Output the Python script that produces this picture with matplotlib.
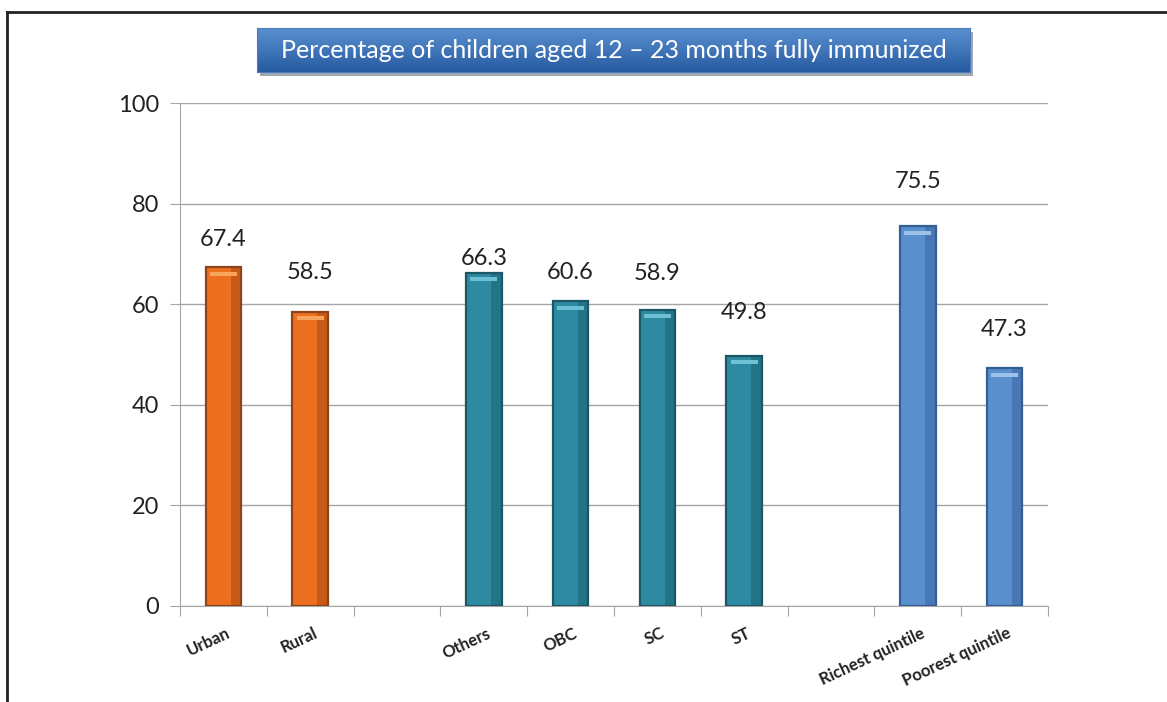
import matplotlib.pyplot as plt
import matplotlib.patches as patches
import numpy as np

# === Data ===
categories = ["Urban", "Rural", "", "Others", "OBC", "SC", "ST", "",
              "Richest quintile", "Poorest quintile"]
values = [67.4, 58.5, np.nan, 66.3, 60.6, 58.9, 49.8, np.nan, 75.5, 47.3]
# where each value label sits (data units, placed by hand like in the original)
label_y = [72.8, 66.4, np.nan, 69.0, 66.4, 66.2, 58.3, np.nan, 84.3, 54.9]
groups = ["res", "res", None, "caste", "caste", "caste", "caste", None, "wealth", "wealth"]

title = "Percentage of children aged 12 \u2013 23 months fully immunized"

face = {"res": "#EC7020", "caste": "#2D8AA0", "wealth": "#5A8FCD"}
edge = {"res": "#8E4418", "caste": "#1B5766", "wealth": "#345E96"}
shade = {"res": "#C85A18", "caste": "#237486", "wealth": "#4877B4"}
light = {"res": "#F8A45A", "caste": "#6FC0D4", "wealth": "#9CC2EC"}

plt.rcParams['font.family'] = ['Lato', 'DejaVu Sans']

# === Plotting ===
fig = plt.figure(figsize=(11.67, 7.02), dpi=100)
ax = fig.add_axes([180 / 1167, 1 - 606 / 702, 868 / 1167, 503 / 702])

x = np.arange(len(categories))
w = 0.41
for i, (v, g) in enumerate(zip(values, groups)):
    if g is None:
        continue
    ax.bar(x[i], v, width=w, color=face[g], linewidth=0, zorder=3)
    # darker right side and light strip on top for the bevel look
    ax.bar(x[i] + w * 0.35, v, width=w * 0.3, color=shade[g], linewidth=0, zorder=3)
    ax.bar(x[i], 0.8, bottom=v - 1.7, width=w * 0.75, color=light[g], linewidth=0, zorder=4)
    ax.bar(x[i], v, width=w, fill=False, edgecolor=edge[g], linewidth=1.6, zorder=5)
    ax.text(x[i], label_y[i], f"{v:.1f}", ha="center", va="center",
            fontsize=17, color="#222222", zorder=5)

ax.set_xlim(-0.5, len(categories) - 0.5)
ax.set_ylim(0, 100)
ax.set_yticks([0, 20, 40, 60, 80, 100])
ax.tick_params(axis="y", labelsize=17, colors="#222222", length=7, color="#A6A6A6", pad=8)
ax.yaxis.grid(True, color="#A6A6A6", linewidth=1.0, zorder=0)
ax.set_axisbelow(True)

# x ticks at category boundaries, labels under the bars
ax.set_xticks(np.arange(-0.5, len(categories)))
ax.set_xticklabels([])
ax.tick_params(axis="x", length=7, color="#A6A6A6", direction="out")
for i, c in enumerate(categories):
    if c:
        ax.text(x[i] + 0.03, -3.8, c, rotation=25, ha="right", va="top",
                rotation_mode="anchor", fontsize=12, fontweight="bold", color="#222222")

for s in ["top", "right"]:
    ax.spines[s].set_visible(False)
ax.spines["left"].set_color("#A6A6A6")
ax.spines["bottom"].set_color("#A6A6A6")

# title box with shadow and vertical gradient
shax = fig.add_axes([260 / 1167, 1 - 76 / 702, 713 / 1167, 44 / 702])
shax.set_facecolor("#A0A8B2")
shax.set_xticks([])
shax.set_yticks([])
for s in shax.spines.values():
    s.set_visible(False)
shax.set_zorder(1)

tax = fig.add_axes([257 / 1167, 1 - 72 / 702, 713 / 1167, 44 / 702])
grad = np.linspace(0, 1, 64).reshape(-1, 1)
top_c = np.array([0x5A, 0x90, 0xD0]) / 255
bot_c = np.array([0x27, 0x5B, 0xA2]) / 255
img = top_c[None, None, :] * (1 - grad[:, :, None]) + bot_c[None, None, :] * grad[:, :, None]
tax.imshow(img, aspect="auto", extent=[0, 1, 0, 1])
tax.set_xticks([])
tax.set_yticks([])
for s in tax.spines.values():
    s.set_color("#4A7CBC")
tax.set_zorder(2)
tax.text(0.5, 0.5, title, ha="center", va="center", fontsize=18, color="white",
         transform=tax.transAxes)

# outer frame (left and top edges visible)
fig.add_artist(plt.Line2D([7 / 1167, 7 / 1167], [0, 1 - 12 / 702],
                          transform=fig.transFigure, color="#222222", linewidth=2))
fig.add_artist(plt.Line2D([7 / 1167, 1], [1 - 12 / 702, 1 - 12 / 702],
                          transform=fig.transFigure, color="#222222", linewidth=2))

plt.savefig("out.png", dpi=100)
plt.close()
